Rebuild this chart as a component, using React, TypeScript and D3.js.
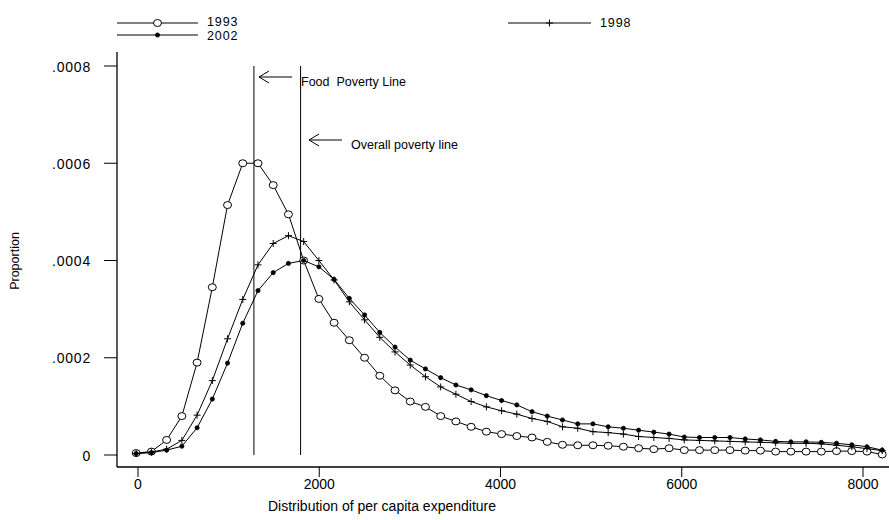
import React from "react";
import * as d3 from "d3";

const expenditure = [-20, 148, 316, 484, 652, 820, 988, 1156, 1324, 1492, 1660, 1828, 1996, 2164, 2332, 2500, 2668, 2836, 3004, 3172, 3340, 3508, 3676, 3844, 4012, 4180, 4348, 4516, 4684, 4852, 5020, 5188, 5356, 5524, 5692, 5860, 6028, 6196, 6364, 6532, 6700, 6868, 7036, 7204, 7372, 7540, 7708, 7876, 8044, 8212];

const y1993 = [0.000004, 0.000007, 0.000031, 0.00008, 0.00019, 0.000345, 0.000514, 0.0006, 0.0006, 0.000555, 0.000495, 0.0004, 0.000321, 0.000272, 0.000236, 0.0002, 0.000163, 0.000133, 0.00011, 0.000099, 0.00008, 0.000069, 0.000058, 0.000048, 0.000043, 0.000039, 0.000036, 0.000027, 0.000021, 0.00002, 0.00002, 0.000019, 0.000017, 0.000014, 0.000012, 0.000014, 0.00001, 0.00001, 0.00001, 0.00001, 0.000009, 0.000009, 0.000007, 0.000007, 0.000007, 0.000007, 0.000008, 0.000008, 0.000007, 0.000001];

const y1998 = [0.000003, 0.000006, 0.000012, 0.00003, 0.000082, 0.000153, 0.000239, 0.00032, 0.000391, 0.000435, 0.000451, 0.000439, 0.0004, 0.00036, 0.000315, 0.000278, 0.000242, 0.000212, 0.000185, 0.000161, 0.00014, 0.000125, 0.00011, 0.000099, 0.000091, 0.000084, 0.000075, 0.000069, 0.000058, 0.000055, 0.000048, 0.000046, 0.000043, 0.000038, 0.000036, 0.000034, 0.000031, 0.00003, 0.000029, 0.000028, 0.000027, 0.000026, 0.000025, 0.000024, 0.000024, 0.000023, 0.00002, 0.000017, 0.000013, 0.000009];

const y2002 = [0.000003, 0.000005, 0.00001, 0.000018, 0.000056, 0.000115, 0.000189, 0.000271, 0.000338, 0.000375, 0.000394, 0.0004, 0.000387, 0.000361, 0.000322, 0.000288, 0.000252, 0.000222, 0.000195, 0.000177, 0.000159, 0.000144, 0.000134, 0.000122, 0.000112, 0.000103, 0.000089, 0.00008, 0.000072, 0.000064, 0.000064, 0.000058, 0.000055, 0.000051, 0.000047, 0.000043, 0.000037, 0.000036, 0.000036, 0.000036, 0.000033, 0.000031, 0.000028, 0.000027, 0.000027, 0.000026, 0.000024, 0.000021, 0.000017, 0.00001];

const xTicks = [0, 2000, 4000, 6000, 8000];
const yTicks = [0, 0.0002, 0.0004, 0.0006, 0.0008];
const yTickLabels = ["0", ".0002", ".0004", ".0006", ".0008"];
const foodPovertyLine = 1279;
const overallPovertyLine = 1794;

const FONT = "'Liberation Sans', Arial, sans-serif";

function Marker({ kind, x, y }: { kind: string; x: number; y: number }) {
  if (kind === "circle") {
    return <ellipse cx={x} cy={y} rx={4} ry={3.5} fill="white" stroke="black" strokeWidth={1} />;
  }
  if (kind === "plus") {
    return (
      <g stroke="black" strokeWidth={1}>
        <line x1={x - 3.5} y1={y} x2={x + 3.5} y2={y} />
        <line x1={x} y1={y - 3.5} x2={x} y2={y + 3.5} />
      </g>
    );
  }
  return <circle cx={x} cy={y} r={2.1} fill="black" stroke="black" strokeWidth={0.8} />;
}

export default function App() {
  const W = 889;
  const H = 520;
  const x = d3.scaleLinear().domain([0, 8000]).range([138, 863]);
  const y = d3.scaleLinear().domain([0, 0.0008]).range([455, 66]);
  const line = d3
    .line<number>()
    .x((_, i) => x(expenditure[i]))
    .y((d) => y(d));

  const series = [
    { name: "1993", values: y1993, marker: "circle" },
    { name: "1998", values: y1998, marker: "plus" },
    { name: "2002", values: y2002, marker: "dot" },
  ];

  const legend = [
    { name: "1993", marker: "circle", x1: 117, x2: 198, y: 23, ty: 25.5 },
    { name: "2002", marker: "dot", x1: 117, x2: 198, y: 35, ty: 40 },
    { name: "1998", marker: "plus", x1: 508, x2: 591, y: 23, ty: 26.5 },
  ];

  const axisY = 467;
  const axisX = 117;

  return (
    <svg width={W} height={H} style={{ position: "absolute", left: 0, top: 0, background: "white" }}>
      <rect x={0} y={0} width={W} height={H} fill="white" />
      {/* legend */}
      {legend.map((l) => (
        <g key={l.name}>
          <line x1={l.x1} x2={l.x2} y1={l.y} y2={l.y} stroke="black" strokeWidth={1} />
          <Marker kind={l.marker} x={(l.x1 + l.x2) / 2} y={l.y} />
          <text x={l.x2 + 9} y={l.ty} fontFamily={FONT} fontSize={12.5} letterSpacing={0.9}>
            {l.name}
          </text>
        </g>
      ))}

      {/* axes */}
      <line x1={axisX} x2={axisX} y1={52} y2={axisY} stroke="black" strokeWidth={1.3} />
      <line x1={axisX} x2={W} y1={axisY} y2={axisY} stroke="black" strokeWidth={1.3} />
      {yTicks.map((t, i) => (
        <g key={"y" + i}>
          <line x1={104} x2={axisX} y1={y(t)} y2={y(t)} stroke="black" strokeWidth={1} />
          <text x={91} y={y(t) + 5.5} textAnchor="end" fontFamily={FONT} fontSize={14} letterSpacing={0.8}>
            {yTickLabels[i]}
          </text>
        </g>
      ))}
      {xTicks.map((t) => (
        <g key={"x" + t}>
          <line x1={x(t)} x2={x(t)} y1={axisY} y2={axisY + 10} stroke="black" strokeWidth={1} />
          <text x={x(t)} y={axisY + 22} textAnchor="middle" fontFamily={FONT} fontSize={14}>
            {t}
          </text>
        </g>
      ))}
      <text x={382} y={511} textAnchor="middle" fontFamily={FONT} fontSize={14}>
        Distribution of per capita expenditure
      </text>
      <text transform={`translate(19,261) rotate(-90)`} textAnchor="middle" fontFamily={FONT} fontSize={12.5}>
        Proportion
      </text>

      {/* poverty lines */}
      <line x1={x(foodPovertyLine)} x2={x(foodPovertyLine)} y1={y(0.0008)} y2={y(0)} stroke="black" strokeWidth={1} />
      <line x1={x(overallPovertyLine)} x2={x(overallPovertyLine)} y1={y(0.0008)} y2={y(0)} stroke="black" strokeWidth={1} />

      {/* annotations */}
      <g stroke="black" strokeWidth={1} fill="none">
        <line x1={259} x2={292} y1={77} y2={77} />
        <polyline points="269,71 259,77 269,83" />
        <line x1={309} x2={342} y1={140} y2={140} />
        <polyline points="319,134 309,140 319,146" />
      </g>
      <text x={301} y={86} fontFamily={FONT} fontSize={12.5} style={{ whiteSpace: "pre" }}>
        {"Food  Poverty Line"}
      </text>
      <text x={351} y={149} fontFamily={FONT} fontSize={12.5}>
        Overall poverty line
      </text>

      {/* series */}
      {series.map((s) => (
        <g key={s.name}>
          <path d={line(s.values) || ""} fill="none" stroke="black" strokeWidth={1} />
          {s.values.map((v, i) => (
            <Marker key={i} kind={s.marker} x={x(expenditure[i])} y={y(v)} />
          ))}
        </g>
      ))}
    </svg>
  );
}
